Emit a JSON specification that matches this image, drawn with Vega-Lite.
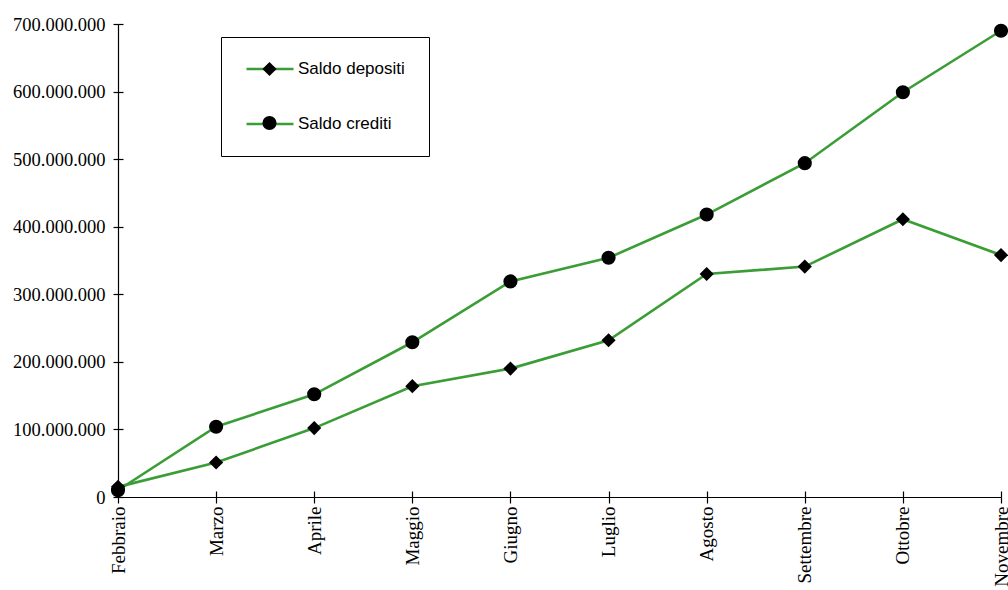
{
  "$schema": "https://vega.github.io/schema/vega-lite/v6.json",
  "autosize": "none",
  "width": 883,
  "height": 473,
  "padding": {"left": 118, "top": 24, "right": 7, "bottom": 93},
  "background": "white",
  "config": {
    "view": {"stroke": null},
    "font": "Liberation Serif"
  },
  "data": {
    "values": [
      {"mese": "Febbraio", "serie": "Saldo depositi", "saldo": 15000000},
      {"mese": "Marzo", "serie": "Saldo depositi", "saldo": 51000000},
      {"mese": "Aprile", "serie": "Saldo depositi", "saldo": 102000000},
      {"mese": "Maggio", "serie": "Saldo depositi", "saldo": 164000000},
      {"mese": "Giugno", "serie": "Saldo depositi", "saldo": 190000000},
      {"mese": "Luglio", "serie": "Saldo depositi", "saldo": 232000000},
      {"mese": "Agosto", "serie": "Saldo depositi", "saldo": 330000000},
      {"mese": "Settembre", "serie": "Saldo depositi", "saldo": 341000000},
      {"mese": "Ottobre", "serie": "Saldo depositi", "saldo": 411000000},
      {"mese": "Novembre", "serie": "Saldo depositi", "saldo": 358000000},
      {"mese": "Febbraio", "serie": "Saldo crediti", "saldo": 10000000},
      {"mese": "Marzo", "serie": "Saldo crediti", "saldo": 104000000},
      {"mese": "Aprile", "serie": "Saldo crediti", "saldo": 152000000},
      {"mese": "Maggio", "serie": "Saldo crediti", "saldo": 229000000},
      {"mese": "Giugno", "serie": "Saldo crediti", "saldo": 319000000},
      {"mese": "Luglio", "serie": "Saldo crediti", "saldo": 354000000},
      {"mese": "Agosto", "serie": "Saldo crediti", "saldo": 418000000},
      {"mese": "Settembre", "serie": "Saldo crediti", "saldo": 494000000},
      {"mese": "Ottobre", "serie": "Saldo crediti", "saldo": 599000000},
      {"mese": "Novembre", "serie": "Saldo crediti", "saldo": 690000000}
    ]
  },
  "resolve": {
    "scale": {"x": "shared", "y": "shared"},
    "axis": {"x": "independent", "y": "independent"}
  },
  "layer": [
    {
      "mark": {"type": "line", "strokeWidth": 2.6, "clip": false},
      "encoding": {
        "x": {
          "field": "mese",
          "type": "ordinal",
          "sort": ["Febbraio", "Marzo", "Aprile", "Maggio", "Giugno", "Luglio", "Agosto", "Settembre", "Ottobre", "Novembre"],
          "scale": {"type": "point", "padding": 0},
          "axis": {
            "orient": "bottom",
            "title": null,
            "labelAngle": -90,
            "labelFont": "Liberation Serif",
            "labelFontSize": 19,
            "labelColor": "black",
            "labelPadding": 3,
            "labelOverlap": false,
            "labelBound": false,
            "domainColor": "black",
            "domainWidth": 1.2,
            "tickColor": "black",
            "tickWidth": 1.2,
            "tickSize": 6,
            "grid": false
          }
        },
        "y": {
          "field": "saldo",
          "type": "quantitative",
          "scale": {"domain": [0, 700000000], "nice": false, "zero": true},
          "axis": {
            "orient": "left",
            "title": null,
            "values": [0, 100000000, 200000000, 300000000, 400000000, 500000000, 600000000, 700000000],
            "labelExpr": "replace(format(datum.value, ','), /,/g, '.')",
            "labelFont": "Liberation Serif",
            "labelFontSize": 18.5,
            "labelColor": "black",
            "labelPadding": 8,
            "domainColor": "black",
            "domainWidth": 1.2,
            "tickColor": "black",
            "tickWidth": 1.2,
            "tickSize": 5,
            "grid": false
          }
        },
        "detail": {"field": "serie"},
        "color": {
          "field": "serie",
          "type": "nominal",
          "scale": {"domain": ["Saldo depositi", "Saldo crediti"], "range": ["#3a9d35", "#3a9d35"]},
          "legend": {
            "title": null,
            "orient": "none",
            "legendX": 103,
            "legendY": 13,
            "symbolType": "stroke",
            "symbolSize": 2209,
            "symbolStrokeWidth": 2.6,
            "clipHeight": 16,
            "rowPadding": 38,
            "labelOffset": 3,
            "labelFont": "Liberation Sans",
            "labelFontSize": 17,
            "labelColor": "black",
            "labelLimit": 300,
            "padding": 24,
            "strokeColor": "black",
            "zindex": 1
          }
        }
      }
    },
    {
      "mark": {"type": "point", "filled": true, "size": 200, "opacity": 1, "color": "black", "clip": false},
      "encoding": {
        "x": {
          "field": "mese",
          "type": "ordinal",
          "sort": ["Febbraio", "Marzo", "Aprile", "Maggio", "Giugno", "Luglio", "Agosto", "Settembre", "Ottobre", "Novembre"],
          "axis": {
            "orient": "bottom",
            "offset": -6,
            "title": null,
            "labels": false,
            "domain": false,
            "grid": false,
            "tickColor": "black",
            "tickWidth": 1.2,
            "tickSize": 6
          }
        },
        "y": {
          "field": "saldo",
          "type": "quantitative",
          "axis": {
            "orient": "left",
            "offset": -5,
            "title": null,
            "values": [0, 100000000, 200000000, 300000000, 400000000, 500000000, 600000000, 700000000],
            "labels": false,
            "domain": false,
            "grid": false,
            "tickColor": "black",
            "tickWidth": 1.2,
            "tickSize": 5
          }
        },
        "shape": {
          "field": "serie",
          "type": "nominal",
          "sort": ["Saldo depositi", "Saldo crediti"],
          "scale": {"range": ["diamond", "circle"]},
          "legend": {
            "title": null,
            "orient": "none",
            "legendX": 103,
            "legendY": 13,
            "symbolSize": 200,
            "symbolFillColor": "black",
            "symbolStrokeWidth": 0,
            "symbolOffset": 17,
            "clipHeight": 16,
            "rowPadding": 38,
            "labelExpr": "''",
            "padding": 24,
            "zindex": 2
          }
        }
      }
    }
  ]
}
